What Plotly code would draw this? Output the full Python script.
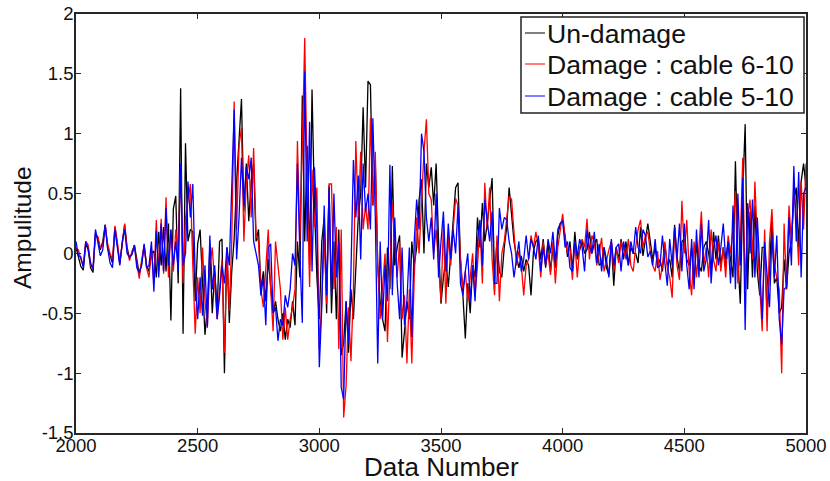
import plotly.graph_objects as go

data_number = list(range(2000, 5001, 10))

un_damage = [
 .05,-.02,-.11,-.14,.08,.03,-.12,-.16,.17,.12,
 .03,.1,.24,.05,-.02,-.08,.22,.08,-.08,.08,
 .24,.05,-.04,0,.07,-.05,-.17,-.08,.07,-.1,
 -.15,0,.02,-.2,.18,-.1,.22,-.15,.25,-.56,
 .37,.48,-.25,1.38,-.67,.92,.1,.2,.18,-.4,
 .08,.2,-.3,-.68,-.45,.05,-.5,-.15,-.48,.1,
 .12,-1.0,.05,-.58,-.15,.12,.6,1.0,1.29,.35,
 .75,.27,.6,.75,.1,.2,-.3,-.15,-.4,-.05,
 -.3,-.5,-.4,-.55,-.65,-.5,-.72,-.55,-.62,-.4,
 -.6,.1,-.2,1.32,.1,.9,-.1,1.37,.4,-.2,
 -.55,.1,.3,-.5,.57,-.5,.1,-.55,.2,-.85,
 -.75,-.4,-.83,-.3,-.55,-.1,.3,.5,1.22,.55,
 1.44,1.41,.4,.75,-.1,-.4,-.55,-.65,.05,-.3,
 .73,-.1,.05,.15,-.87,-.65,-.4,-.55,.1,-.1,
 .05,.45,.62,.0,.75,.55,.72,.4,.75,.1,
 -.42,-.2,-.05,-.28,0,.25,.55,.59,-.05,-.35,
 -.71,-.25,-.5,-.1,-.2,.3,.05,.42,.1,.25,
 .45,.63,-.2,.1,-.15,-.2,.05,.22,.55,.3,
 .1,-.02,-.12,-.02,-.15,-.05,-.1,-.35,.02,.1,
 .12,-.05,.12,-.12,.1,-.15,.05,-.12,.15,.25,
 .28,.15,-.03,.1,-.15,.18,-.05,.03,.1,.0,
 .03,.18,0,.08,.12,-.1,-.08,.05,-.12,-.18,
 .1,-.27,.05,-.05,.12,-.05,.1,-.1,.05,.0,
 .0,-.08,.22,-.02,.1,.25,.1,-.05,.05,-.1,
 -.05,-.15,.08,-.1,-.05,-.2,.24,-.03,-.15,.1,
 .12,-.05,-.1,.05,-.25,.08,-.1,-.15,.05,.1,
 .0,-.15,.18,-.05,.15,-.1,.05,-.12,.1,-.05,
 -.2,.77,-.05,-.42,.5,1.08,-.3,.35,-.2,.4,
 -.15,-.35,.05,.05,-.5,-.15,.3,-.25,-.2,-.5,
 -.45,-.05,-.3,0,.1,.45,.55,.05,.6,.75,
 .55]

damage_6_10 = [
 .04,.03,-.05,-.1,.1,.07,-.1,-.12,.16,.14,
 .05,.06,.23,.08,.0,-.05,.23,.1,-.09,.06,
 .25,.03,-.06,.02,.06,-.08,-.21,-.05,.06,-.12,
 -.2,.05,-.25,.28,-.15,.29,-.17,.47,-.2,.2,
 -.15,.2,.0,.75,-.25,.3,.45,.58,-.1,-.67,
 -.2,-.5,.05,-.4,-.6,-.1,.05,-.3,-.55,-.3,
 -.05,-.83,.05,-.48,.1,1.27,.2,.9,1.05,.1,
 .6,.82,.3,.88,.15,.1,-.3,-.45,-.1,.2,
 -.3,-.65,.1,-.1,-.3,-.72,-.45,-.72,-.55,-.45,
 -.3,.94,.1,.9,1.8,.6,-.28,.7,.22,.55,
 -.8,-.4,.15,-.42,.58,.58,-.3,.22,-.8,.2,
 -1.37,-1.1,-.45,-.9,-.3,.94,.3,.85,.2,.4,
 .2,1.13,.4,.85,-.1,-.55,-.3,.0,-.74,-.2,
 .42,.1,-.2,.1,-.55,-.35,-.92,-.3,-.92,-.2,
 .3,.0,.5,.85,1.12,.5,.45,.0,.2,-.1,
 -.4,.25,-.42,.15,-.1,.2,.46,.4,-.05,-.3,
 -.15,-.4,-.2,.0,-.35,-.1,.25,-.25,.59,.2,
 .55,-.05,-.35,.15,-.4,.0,.1,.3,.48,.45,
 .15,-.1,.02,-.1,-.35,-.1,-.05,.15,.05,.18,
 .05,-.2,.1,-.1,.0,-.18,.1,-.25,.05,.2,
 .33,.12,.0,.05,-.22,.1,-.2,.05,.12,.05,
 .29,-.05,.15,.1,-.1,.0,.13,-.15,-.05,.03,
 .1,-.15,.05,-.08,.1,.05,-.05,.12,-.1,-.15,
 .05,.2,.28,.05,.15,.18,.02,-.1,-.15,.02,
 -.22,-.1,.1,-.12,-.2,-.37,.2,-.1,-.22,.44,
 0,.28,-.15,-.35,.1,-.2,.05,.35,-.1,.05,
 -.2,.2,-.05,-.15,.1,-.15,.05,-.2,.15,0,
 .2,.52,-.25,.1,.8,-.3,.3,.45,-.05,.6,
 .1,-.3,-.65,.2,-.65,.1,.37,-.1,-.2,-.3,
 -1.0,.25,-.3,.4,.1,.55,.3,-.1,.6,.2,
 .75]

damage_5_10 = [
 .1,-.02,-.03,-.12,.1,.04,-.08,-.13,.2,.09,
 -.02,.03,.24,.04,-.08,-.12,.2,.05,-.1,.1,
 .2,.0,-.03,-.01,.07,-.12,-.16,-.1,.08,-.12,
 -.1,.1,-.32,.19,-.2,.25,-.15,.38,-.1,.2,
 -.1,.1,-.15,.75,-.1,.0,.6,.3,.58,-.2,
 -.55,-.2,-.52,-.1,-.62,.15,-.3,-.1,-.55,-.35,
 -.1,-.25,.05,-.1,.47,1.2,-.05,.3,.8,.4,
 .72,.62,.8,.1,.0,-.1,-.35,-.2,-.6,.05,
 .08,-.5,-.45,-.73,-.55,-.6,-.35,-.45,-.3,.0,
 -.1,.75,.0,-.58,1.52,.1,1.1,-.15,.72,.2,
 -.95,-.45,.4,-.35,.55,-.35,.5,-.2,.1,-1.12,
 -1.22,-.4,-.75,-.15,.78,.3,.65,-.05,.75,.35,
 .5,.2,1.13,.3,-.92,.1,-.55,-.1,-.4,.74,
 -.35,.3,-.25,-.55,.05,-.6,-.4,.05,-.7,.1,
 .45,.2,1.0,.85,.3,.1,.3,-.05,.5,-.2,
 .1,.35,-.15,.25,-.05,.2,.0,.4,-.25,-.35,
 -.15,.0,-.4,-.1,-.4,.1,.28,-.1,.45,.25,
 .1,.35,-.25,-.25,.38,.2,.3,.28,.1,.0,
 -.2,-.05,.1,-.15,-.05,.15,-.05,.12,.05,-.05,
 .15,-.15,.05,-.1,.12,.0,.18,-.08,.2,.25,
 .27,.05,.1,-.12,-.15,.1,-.02,.12,.05,-.15,
 .2,.05,.0,.18,-.08,.08,-.15,.05,-.05,-.2,
 .12,-.1,.05,.08,-.15,.1,.0,-.1,.1,.0,
 .22,.05,.0,.2,.15,-.03,.02,-.1,.12,-.12,
 -.1,.15,-.08,-.27,.12,-.1,.22,-.05,.25,-.15,
 .25,-.1,-.3,.12,-.3,.2,-.2,.25,-.15,-.05,
 .28,-.25,.05,.15,-.1,.05,.25,-.05,.1,-.25,
 .4,-.3,.5,-.1,.63,-.64,.42,.0,.45,-.2,
 .3,-.1,-.55,.1,-.2,-.45,.15,-.2,.15,-.55,
 -.76,-.3,-.28,.3,-.1,.73,.1,.68,-.2,.5,
 .55]

x_ticks = [2000, 2500, 3000, 3500, 4000, 4500, 5000]
y_ticks = [-1.5, -1, -0.5, 0, 0.5, 1, 1.5, 2]
y_tick_text = ["-1.5", "-1", "-0.5", "0", "0.5", "1", "1.5", "2"]
series = [("Un-damage", un_damage, "#000000"),
          ("Damage : cable 6-10", damage_6_10, "#ff0000"),
          ("Damage : cable 5-10", damage_5_10, "#0000ff")]

FONT = "Liberation Sans, Arial, sans-serif"
W, H = 830, 481
L, R, T, B = 76, 806, 14, 433
def px(v): return (v - L) / (R - L)
def py(v): return (B - v) / (B - T)

fig = go.Figure()
for name, vals, col in series:
    fig.add_trace(go.Scatter(x=data_number, y=vals, mode="lines", name=name,
                             line=dict(color=col, width=1.3), showlegend=False))

axis = dict(showgrid=False, zeroline=False, showline=True, linecolor="#262626", linewidth=1.5,
            mirror="ticks", ticks="inside", ticklen=5, tickwidth=1, tickcolor="#262626",
            automargin=False, tickfont=dict(family=FONT, size=18.5, color="#111111"))

shapes = [dict(type="rect", xref="paper", yref="paper", x0=px(521), x1=px(804), y0=py(113), y1=py(17),
               fillcolor="white", line=dict(color="#222222", width=1.5), layer="above")]
annotations = [
    dict(text="Data Number", x=px(441), y=py(467), xref="paper", yref="paper", showarrow=False,
         xanchor="center", yanchor="middle", font=dict(family=FONT, size=26, color="#111111")),
    dict(text="Ampulitude", x=px(23), y=py(228), xref="paper", yref="paper", showarrow=False, textangle=-90,
         xanchor="center", yanchor="middle", font=dict(family=FONT, size=24.5, color="#111111")),
]
for (name, vals, col), ymid in zip(series, [33, 64, 96]):
    shapes.append(dict(type="line", xref="paper", yref="paper", x0=px(525), x1=px(545), y0=py(ymid), y1=py(ymid),
                       line=dict(color=col, width=1), layer="above"))
    annotations.append(dict(text=name, x=px(544.5), y=py(ymid + 1), xref="paper", yref="paper", showarrow=False,
                            xanchor="left", yanchor="middle", font=dict(family=FONT, size=26.6, color="#111111")))

fig.update_layout(
    width=W, height=H, margin=dict(l=L, r=W - R, t=T, b=H - B, autoexpand=False),
    paper_bgcolor="white", plot_bgcolor="white", font=dict(family=FONT, color="#111111"),
    showlegend=False, shapes=shapes, annotations=annotations,
    xaxis=dict(range=[2000, 5000], tickvals=x_ticks, ticktext=[str(t) for t in x_ticks],
               ticklabelstandoff=-5, **axis),
    yaxis=dict(range=[-1.5, 2], tickvals=y_ticks, ticktext=y_tick_text,
               ticklabelstandoff=-3, **axis),
)
fig.write_html("out.html", config=dict(displayModeBar=False),
               post_script="document.body.style.margin='0';document.documentElement.style.overflow='hidden';")
